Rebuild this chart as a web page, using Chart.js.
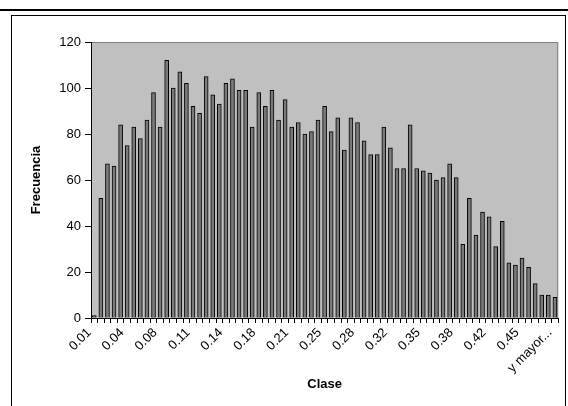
<!DOCTYPE html>
<html>
<head>
<meta charset="utf-8">
<script src="https://cdn.jsdelivr.net/npm/chart.js@4/dist/chart.umd.min.js"></script>
<style>
  html, body { margin: 0; padding: 0; background: #ffffff; }
  #wrap { position: relative; width: 568px; height: 406px; }
</style>
</head>
<body>
<div id="wrap"><canvas id="c" width="568" height="406"></canvas></div>
<script>
// Bin labels (Clase)
const categories = [
  "0.01","0.01","0.02","0.03","0.03","0.04","0.05","0.05","0.06","0.07",
  "0.08","0.08","0.09","0.10","0.10","0.11","0.12","0.12","0.13","0.14",
  "0.14","0.15","0.16","0.17","0.17","0.18","0.19","0.19","0.20","0.21",
  "0.21","0.22","0.23","0.23","0.24","0.25","0.25","0.26","0.27","0.28",
  "0.28","0.29","0.30","0.30","0.31","0.32","0.32","0.33","0.34","0.34",
  "0.35","0.36","0.36","0.37","0.38","0.38","0.39","0.40","0.41","0.41",
  "0.42","0.43","0.43","0.44","0.45","0.45","0.46","0.47","0.47","0.48",
  "y mayor..."
];
// Frecuencia
const frequencies = [
  1, 52, 67, 66, 84, 75, 83, 78, 86, 98,
  83, 112, 100, 107, 102, 92, 89, 105, 97, 93,
  102, 104, 99, 99, 83, 98, 92, 99, 86, 95,
  83, 85, 80, 81, 86, 92, 81, 87, 73, 87,
  85, 77, 71, 71, 83, 74, 65, 65, 84, 65,
  64, 63, 60, 61, 67, 61, 32, 52, 36, 46,
  44, 31, 42, 24, 23, 26, 22, 15, 10, 10,
  9
];
const labelEvery = 5;
const yMin = 0, yMax = 120, yStep = 20;
const xTitle = "Clase";
const yTitle = "Frecuencia";

const FONT = "'Liberation Sans', Arial, sans-serif";

const decor = {
  id: 'decor',
  beforeDraw(chart) {
    const ctx = chart.ctx;
    ctx.save();
    ctx.fillStyle = '#ffffff';
    ctx.fillRect(0, 0, chart.width, chart.height);
    // outer frame
    ctx.fillStyle = '#000000';
    ctx.fillRect(0, 9, chart.width, 2);
    ctx.strokeStyle = '#000000';
    ctx.lineWidth = 1;
    ctx.strokeRect(11.5, 15.5, 554, 420);
    // plot area
    const a = chart.chartArea;
    ctx.fillStyle = '#c0c0c0';
    ctx.fillRect(a.left, a.top, a.right - a.left, a.bottom - a.top);
    ctx.strokeStyle = '#808080';
    ctx.beginPath();
    ctx.moveTo(a.left, a.top + 0.5);
    ctx.lineTo(a.right - 0.5, a.top + 0.5);
    ctx.lineTo(a.right - 0.5, a.bottom);
    ctx.stroke();
    ctx.restore();
  }
};

new Chart(document.getElementById('c'), {
  type: 'bar',
  data: {
    labels: categories,
    datasets: [{
      data: frequencies,
      backgroundColor: '#7a7a7a',
      borderColor: '#000000',
      borderWidth: 1,
      barThickness: 4
    }]
  },
  options: {
    responsive: false,
    animation: false,
    devicePixelRatio: 1,
    layout: { padding: { left: 0, top: 42, right: 8, bottom: 0 } },
    plugins: { legend: { display: false }, tooltip: { enabled: false } },
    scales: {
      x: {
        offset: true,
        grid: { display: true, offset: true, drawOnChartArea: false, drawTicks: true, tickLength: 5, color: '#000000', lineWidth: 1 },
        border: { display: true, color: '#000000', width: 1 },
        ticks: {
          autoSkip: false, maxRotation: 45, minRotation: 45,
          color: '#000000', font: { family: FONT, size: 13 }, padding: 2, labelOffset: -5,
          callback: function(v, i) { return (i % labelEvery === 0) ? this.getLabelForValue(v) : ''; }
        },
        title: { display: true, text: xTitle, color: '#000000', font: { family: FONT, size: 13, weight: 'bold' }, padding: { top: 0, bottom: 14 } },
        afterFit(scale) { scale.height = 88; }
      },
      y: {
        min: yMin, max: yMax,
        grid: { display: true, drawOnChartArea: false, drawTicks: true, tickLength: 6, color: '#000000', lineWidth: 1 },
        border: { display: true, color: '#000000', width: 1 },
        ticks: { stepSize: yStep, color: '#000000', font: { family: FONT, size: 13 }, padding: 4 },
        title: { display: true, text: yTitle, color: '#000000', font: { family: FONT, size: 13, weight: 'bold' }, padding: { top: 29, bottom: 0 } },
        afterFit(scale) { scale.width = 91; }
      }
    }
  },
  plugins: [decor]
});
</script>
</body>
</html>
